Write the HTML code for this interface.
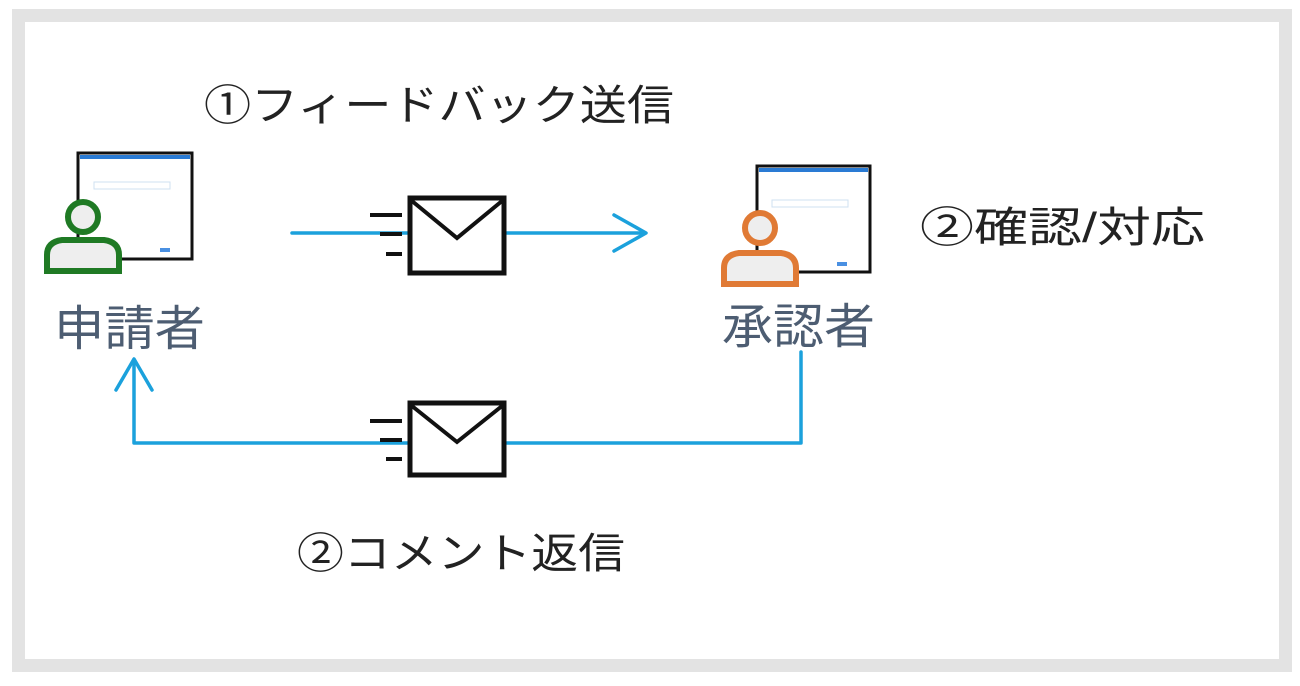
<!DOCTYPE html>
<html><head><meta charset="utf-8"><style>
body{margin:0;width:1300px;height:681px;background:#fff;overflow:hidden;font-family:"Liberation Sans","Noto Sans CJK JP",sans-serif}
</style></head><body>
<svg width="1300" height="681" xmlns="http://www.w3.org/2000/svg">
<rect x="18.5" y="15.5" width="1267" height="650" fill="none" stroke="#e3e3e3" stroke-width="13"/>
<g font-family="Liberation Sans,Noto Sans CJK JP,sans-serif" lengthAdjust="spacingAndGlyphs">
<text x="204" y="120" font-size="42" fill="#222" textLength="470" lengthAdjust="spacingAndGlyphs">①フィードバック送信</text>
<text x="920" y="242" font-size="42" fill="#222" textLength="285" lengthAdjust="spacingAndGlyphs">②確認/対応</text>
<text x="297" y="568" font-size="42" fill="#222" textLength="328" lengthAdjust="spacingAndGlyphs">②コメント返信</text>
<text x="54" y="345" font-size="48" fill="#4d5d72" textLength="151" lengthAdjust="spacingAndGlyphs">申請者</text>
<text x="722" y="343" font-size="48" fill="#4d5d72" textLength="153" lengthAdjust="spacingAndGlyphs">承認者</text>
</g>
<g>
<rect x="78" y="153" width="114" height="106" fill="#fff" stroke="#111" stroke-width="3"/>
<rect x="80" y="155" width="110" height="4" fill="#2a7bd4"/>
<rect x="94" y="182" width="76" height="7" fill="none" stroke="#cfe0f2" stroke-width="1"/>
<rect x="160" y="248" width="10" height="4" fill="#4a90e2"/>
<rect x="757" y="166" width="113" height="106" fill="#fff" stroke="#111" stroke-width="3"/>
<rect x="759" y="168" width="109" height="4" fill="#2a7bd4"/>
<rect x="772" y="200" width="76" height="7" fill="none" stroke="#cfe0f2" stroke-width="1"/>
<rect x="837" y="262" width="10" height="4" fill="#4a90e2"/>
</g>
<g fill="#eee" stroke="#1f7a24" stroke-width="6">
<circle cx="83" cy="217" r="15"/>
<path d="M47 271 V255 Q47 242 62 240 H104 Q119 242 119 255 V271 Z"/>
</g>
<g fill="#eee" stroke="#e07a35" stroke-width="6">
<circle cx="760" cy="228" r="15"/>
<path d="M724 284 V268 Q724 255 739 253 H781 Q796 255 796 268 V284 Z"/>
</g>
<g stroke="#1ba1dc" stroke-width="3.5" fill="none" stroke-linecap="round" stroke-linejoin="round">
<line x1="292" y1="233" x2="645" y2="233"/>
<polyline points="614,215 646,233 614,251"/>
<polyline points="801,352 801,443 134,443 134,360"/>
<polyline points="116,390 134,359 152,390"/>
</g>
<g stroke="#111" fill="#fff">
<rect x="410" y="198" width="94" height="75" stroke-width="5"/>
<polyline points="412,201 457,238 502,201" fill="none" stroke-width="4"/>
<line x1="370" y1="215" x2="402" y2="215" stroke-width="4"/>
<line x1="380" y1="234" x2="402" y2="234" stroke-width="4"/>
<line x1="386" y1="254" x2="402" y2="254" stroke-width="4"/>
<rect x="410" y="403" width="94" height="72" stroke-width="5"/>
<polyline points="412,406 457,442 502,406" fill="none" stroke-width="4"/>
<line x1="370" y1="421" x2="402" y2="421" stroke-width="4"/>
<line x1="380" y1="440" x2="402" y2="440" stroke-width="4"/>
<line x1="386" y1="459" x2="402" y2="459" stroke-width="4"/>
</g>
</svg>
</body></html>
